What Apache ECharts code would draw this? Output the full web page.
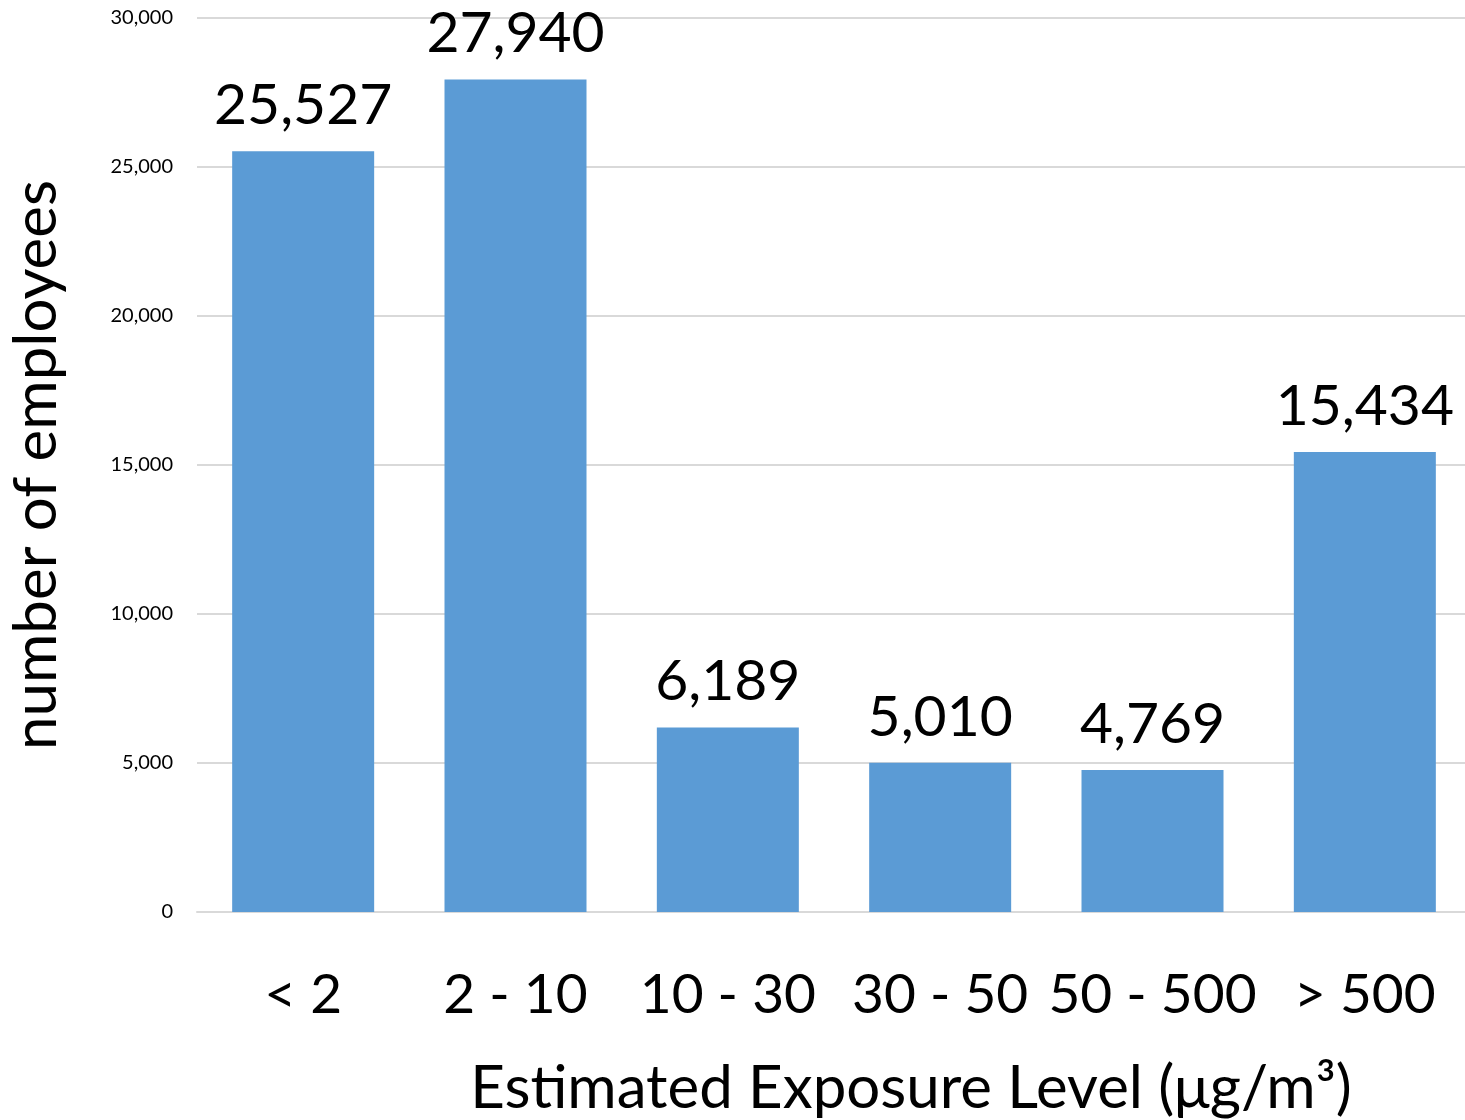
<!DOCTYPE html>
<html><head><meta charset="utf-8">
<script src="https://cdn.jsdelivr.net/npm/echarts@6/dist/echarts.min.js"></script>
<style>html,body{margin:0;padding:0;background:#fff}#c{width:1465px;height:1120px}</style>
</head><body><div id="c"></div>
<script>
const categories = ['< 2', '2 - 10', '10 - 30', '30 - 50', '50 - 500', '> 500'];
const employees = [25527, 27940, 6189, 5010, 4769, 15434];
const yTicks = [0, 5000, 10000, 15000, 20000, 25000, 30000];
const FONT = 'Lato, "Open Sans", sans-serif';
const fmt = v => v.toLocaleString('en-US');
const chart = echarts.init(document.getElementById('c'));
chart.setOption({
  animation: false,
  backgroundColor: '#fff',
  title: {
    text: 'Estimated Exposure Level (\u03bcg/m\u00b3)',
    left: 906, top: 1054, textAlign: 'center',
    textStyle: {fontFamily: FONT, fontSize: 60, fontWeight: 'normal', color: '#000'}
  },
  grid: {left: 197, right: -6, top: 18, bottom: 208, containLabel: false, outerBoundsMode: 'none'},
  xAxis: {
    type: 'category', data: categories,
    axisLine: {show: true, lineStyle: {color: '#d9d9d9', width: 2}},
    axisTick: {show: false},
    axisLabel: {fontFamily: FONT, fontSize: 55, color: '#000', margin: 56, interval: 0}
  },
  yAxis: {
    type: 'value', min: yTicks[0], max: yTicks[yTicks.length - 1], interval: 5000,
    name: 'number of employees', nameLocation: 'middle', nameGap: 130,
    nameTextStyle: {fontFamily: FONT, fontSize: 60, color: '#000'},
    axisLine: {show: false}, axisTick: {show: false},
    axisLabel: {fontFamily: FONT, fontSize: 20, color: '#000', margin: 24, formatter: v => fmt(v)},
    splitLine: {lineStyle: {color: '#d9d9d9', width: 2}}
  },
  series: [{
    type: 'bar', data: employees, barWidth: 142,
    itemStyle: {color: '#5b9bd5'},
    label: {show: true, position: 'top', distance: 17, fontFamily: FONT, fontSize: 57, color: '#000',
      formatter: p => fmt(p.value)}
  }]
});
</script></body></html>
